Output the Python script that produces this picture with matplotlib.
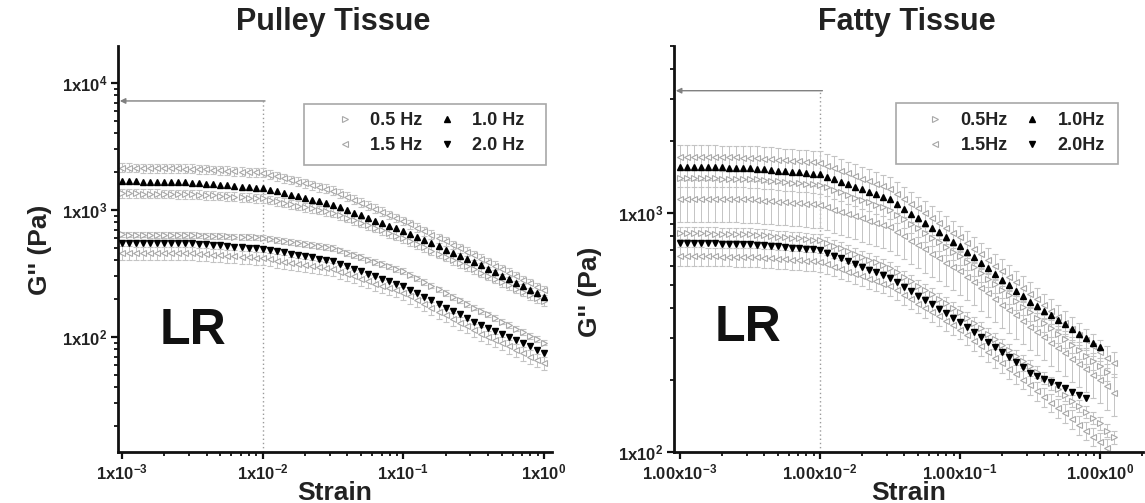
import matplotlib
matplotlib.use("Agg")
import matplotlib.pyplot as plt
from matplotlib.lines import Line2D
from matplotlib.patches import Rectangle
from matplotlib.ticker import LogLocator, NullFormatter

# ---------------- data ----------------
strain = [0.00100, 0.00112, 0.00126, 0.00141, 0.00158, 0.00178, 0.00200, 0.00224, 0.00251, 0.00282,
          0.00316, 0.00355, 0.00398, 0.00447, 0.00501, 0.00562, 0.00631, 0.00708, 0.00794, 0.00891,
          0.0100, 0.0112, 0.0126, 0.0141, 0.0158, 0.0178, 0.0200, 0.0224, 0.0251, 0.0282,
          0.0316, 0.0355, 0.0398, 0.0447, 0.0501, 0.0562, 0.0631, 0.0708, 0.0794, 0.0891,
          0.100, 0.112, 0.126, 0.141, 0.158, 0.178, 0.200, 0.224, 0.251, 0.282,
          0.316, 0.355, 0.398, 0.447, 0.501, 0.562, 0.631, 0.708, 0.794, 0.891,
          1.00, 1.12, 1.26]

# Pulley tissue
pulley_15_upper = [2150, 2146, 2142, 2138, 2134, 2130, 2126, 2122, 2118, 2114,
                   2110, 2095, 2079, 2064, 2049, 2034, 2019, 2004, 1989, 1975,
                   1960, 1898, 1838, 1779, 1723, 1668, 1615, 1564, 1515, 1467,
                   1420, 1344, 1272, 1204, 1140, 1079, 1022, 967, 915, 866,
                   820, 770, 724, 680, 639, 601, 565, 531, 499, 469,
                   440, 413, 387, 363, 341, 320, 300, 281, 264, 247,
                   232]
pulley_10 = [1680, 1676, 1672, 1668, 1664, 1660, 1656, 1652, 1648, 1644,
             1640, 1623, 1607, 1590, 1574, 1558, 1542, 1526, 1511, 1495,
             1480, 1437, 1395, 1354, 1314, 1276, 1238, 1202, 1167, 1133,
             1100, 1048, 999, 952, 908, 865, 824, 786, 749, 714,
             680, 643, 608, 576, 544, 515, 487, 461, 436, 412,
             390, 366, 344, 323, 303, 284, 267, 250, 235, 220,
             207]
pulley_05_upper = [1350, 1348, 1346, 1344, 1342, 1340, 1338, 1336, 1334, 1332,
                   1330, 1320, 1309, 1299, 1289, 1279, 1269, 1259, 1249, 1240,
                   1230, 1199, 1168, 1138, 1109, 1081, 1054, 1027, 1000, 975,
                   950, 907, 867, 828, 791, 755, 721, 689, 658, 628,
                   600, 567, 536, 506, 478, 452, 427, 403, 381, 360,
                   340, 321, 303, 286, 269, 254, 240, 226, 213, 201,
                   190]
pulley_05_lower = [640, 639, 638, 638, 637, 636, 635, 634, 634, 633,
                   632, 629, 626, 624, 621, 618, 616, 613, 610, 608,
                   605, 594, 582, 571, 561, 550, 540, 529, 519, 510,
                   500, 480, 460, 441, 424, 406, 390, 374, 359, 344,
                   330, 309, 289, 270, 253, 237, 222, 207, 194, 182,
                   170, 160, 150, 141, 132, 124, 116, 109, 102, 96,
                   90]
pulley_20 = [552, 551, 551, 550, 549, 549, 548, 547, 547, 546,
             545, 540, 535, 530, 525, 519, 514, 509, 505, 500,
             495, 484, 473, 463, 452, 442, 432, 423, 413, 404,
             395, 377, 360, 344, 329, 314, 300, 287, 274, 262,
             250, 235, 220, 206, 194, 182, 170, 160, 150, 141,
             132, 125, 118, 111, 105, 99, 94, 89, 84, 79,
             75]
pulley_15_lower = [460, 460, 459, 459, 458, 458, 457, 457, 456, 456,
                   455, 451, 447, 442, 438, 434, 430, 426, 422, 419,
                   415, 407, 399, 391, 383, 375, 368, 361, 354, 347,
                   340, 326, 312, 299, 287, 275, 263, 252, 242, 232,
                   222, 208, 194, 181, 169, 158, 148, 138, 129, 121,
                   113, 106, 100, 94, 89, 84, 79, 74, 70, 66,
                   62]

# Fatty tissue
fatty_15_top = [1720, 1719, 1717, 1716, 1714, 1713, 1711, 1710, 1708, 1707,
                1705, 1696, 1688, 1679, 1671, 1662, 1654, 1645, 1637, 1628,
                1620, 1580, 1541, 1502, 1465, 1429, 1393, 1359, 1325, 1292,
                1260, 1203, 1148, 1095, 1046, 998, 952, 909, 868, 828,
                790, 748, 709, 672, 636, 603, 571, 541, 513, 486,
                460, 435, 411, 389, 367, 347, 328, 310, 293, 277,
                262, 248, 235]
fatty_10 = [1560, 1559, 1557, 1556, 1554, 1553, 1551, 1550, 1548, 1547,
            1545, 1535, 1525, 1516, 1506, 1497, 1487, 1478, 1468, 1459,
            1450, 1416, 1382, 1349, 1317, 1286, 1255, 1225, 1196, 1168,
            1140, 1090, 1041, 995, 951, 909, 869, 830, 794, 759,
            725, 687, 652, 618, 586, 555, 526, 499, 473, 448,
            425, 407, 390, 373, 357, 342, 327, 313, 300, 287,
            275]
fatty_05_upper = [1400, 1399, 1398, 1397, 1396, 1395, 1394, 1393, 1392, 1391,
                  1390, 1382, 1374, 1365, 1357, 1349, 1341, 1333, 1326, 1318,
                  1310, 1279, 1248, 1219, 1190, 1161, 1134, 1107, 1081, 1055,
                  1030, 985, 942, 901, 862, 825, 789, 755, 722, 690,
                  660, 625, 593, 561, 532, 504, 478, 453, 429, 406,
                  385, 365, 347, 329, 312, 296, 281, 267, 253, 240,
                  228, 216]
fatty_15_mid = [1150, 1149, 1148, 1147, 1146, 1145, 1144, 1143, 1142, 1141,
                1140, 1134, 1128, 1122, 1116, 1110, 1104, 1098, 1092, 1086,
                1080, 1057, 1034, 1012, 991, 969, 949, 928, 909, 889,
                870, 834, 799, 766, 735, 704, 675, 647, 620, 595,
                570, 540, 513, 486, 461, 437, 414, 393, 373, 353,
                335, 318, 302, 287, 273, 259, 246, 234, 222, 211,
                200, 188, 177]
fatty_05_lower = [826, 825, 824, 823, 822, 821, 819, 818, 817, 816,
                  815, 810, 806, 801, 797, 792, 788, 783, 779, 774,
                  770, 750, 730, 711, 692, 674, 656, 639, 622, 606,
                  590, 565, 542, 519, 497, 477, 457, 438, 419, 402,
                  385, 365, 347, 329, 312, 296, 281, 267, 253, 240,
                  228, 216, 204, 194, 183, 174, 164, 156, 147, 139,
                  132, 123, 115]
fatty_20 = [750, 749, 748, 748, 747, 746, 745, 745, 744, 743,
            742, 738, 733, 729, 725, 720, 716, 712, 708, 704,
            700, 681, 663, 646, 629, 612, 596, 580, 565, 550,
            535, 513, 491, 471, 451, 433, 415, 397, 381, 365,
            350, 333, 318, 302, 288, 274, 261, 249, 237, 226,
            215, 208, 202, 196, 190, 185, 179, 174, 168]
fatty_15_lower = [660, 660, 659, 659, 658, 658, 657, 657, 656, 656,
                  655, 652, 649, 646, 643, 640, 637, 634, 631, 628,
                  625, 611, 597, 583, 569, 556, 543, 531, 519, 507,
                  495, 475, 455, 436, 418, 401, 385, 369, 354, 339,
                  325, 308, 292, 277, 262, 248, 236, 223, 212, 201,
                  190, 180, 170, 161, 153, 145, 137, 130, 123, 116,
                  110, 104]

# relative error-bar half-widths
pulley_err = {"15u": 0.08, "05u": 0.08, "05l": 0.05, "15l": 0.12}
fatty_err = {"15t": 0.12, "05u": 0.08, "15m": 0.20, "05l": 0.06, "15l": 0.09}

legend_labels_left = ["0.5 Hz", "1.5 Hz", "1.0 Hz", "2.0 Hz"]
legend_labels_right = ["0.5Hz", "1.5Hz", "1.0Hz", "2.0Hz"]
x_ticks = [1e-3, 1e-2, 1e-1, 1e0]
x_labels_left = ["1x10$^{-3}$", "1x10$^{-2}$", "1x10$^{-1}$", "1x10$^{0}$"]
x_labels_right = ["1.00x10$^{-3}$", "1.00x10$^{-2}$", "1.00x10$^{-1}$", "1.00x10$^{0}$"]
y_ticks_left = [1e2, 1e3, 1e4]
y_labels_left = ["1x10$^{2}$", "1x10$^{3}$", "1x10$^{4}$"]
y_ticks_right = [1e2, 1e3]
y_labels_right = ["1x10$^{2}$", "1x10$^{3}$"]

lr_limit = 1e-2
arrow_level_left = 7200
arrow_level_right = 3250

# ---------------- style ----------------
plt.rcParams["font.family"] = ["Liberation Sans", "DejaVu Sans"]
plt.rcParams["font.weight"] = "bold"
plt.rcParams["mathtext.fontset"] = "custom"
plt.rcParams["mathtext.rm"] = "Liberation Sans:bold"
plt.rcParams["mathtext.it"] = "Liberation Sans:bold"
plt.rcParams["mathtext.bf"] = "Liberation Sans:bold"
plt.rcParams["mathtext.default"] = "rm"

TXT = "#222222"
GRAY_M = "#a8a8a8"
GRAY_E = "#c4c4c4"

fig = plt.figure(figsize=(11.45, 5.03), dpi=100)
ax1 = fig.add_axes([118 / 1145, 1 - 452 / 503, (552 - 118) / 1145, (452 - 46) / 503])
ax2 = fig.add_axes([674 / 1145, 1 - 452 / 503, (1143 - 674) / 1145, (452 - 46) / 503])


def gray_series(ax, y, frac, marker):
    x = strain[:len(y)]
    err = [v * frac for v in y]
    ax.errorbar(x, y, yerr=err, fmt=marker, ms=4.6, mfc="white", mec=GRAY_M, mew=0.8,
                ecolor=GRAY_E, elinewidth=0.7, capsize=2, capthick=0.7, ls="none", zorder=2)


def black_series(ax, y, marker):
    x = strain[:len(y)]
    ax.plot(x, y, ls="none", marker=marker, ms=4.6, color="black", mec="black", zorder=4)


# Pulley
gray_series(ax1, pulley_15_upper, pulley_err["15u"], "<")
gray_series(ax1, pulley_05_upper, pulley_err["05u"], ">")
gray_series(ax1, pulley_05_lower, pulley_err["05l"], ">")
gray_series(ax1, pulley_15_lower, pulley_err["15l"], "<")
black_series(ax1, pulley_10, "^")
black_series(ax1, pulley_20, "v")

# Fatty
gray_series(ax2, fatty_15_top, fatty_err["15t"], "<")
gray_series(ax2, fatty_05_upper, fatty_err["05u"], ">")
gray_series(ax2, fatty_15_mid, fatty_err["15m"], "<")
gray_series(ax2, fatty_05_lower, fatty_err["05l"], ">")
gray_series(ax2, fatty_15_lower, fatty_err["15l"], "<")
black_series(ax2, fatty_10, "^")
black_series(ax2, fatty_20, "v")


def style_axis(ax, xlim, ylim, xlabels, yticks, ylabels, arrow_level, ylabel_xy):
    ax.set_xscale("log")
    ax.set_yscale("log")
    ax.set_xlim(*xlim)
    ax.set_ylim(*ylim)
    for s in ["top", "right"]:
        ax.spines[s].set_visible(False)
    for s in ["left", "bottom"]:
        ax.spines[s].set_linewidth(2)
        ax.spines[s].set_color("#111111")
    ax.set_xticks(x_ticks)
    ax.set_xticklabels(xlabels)
    ax.set_yticks(yticks)
    ax.set_yticklabels(ylabels)
    ax.xaxis.set_minor_locator(LogLocator(base=10, subs=range(2, 10)))
    ax.yaxis.set_minor_locator(LogLocator(base=10, subs=range(2, 10)))
    ax.xaxis.set_minor_formatter(NullFormatter())
    ax.yaxis.set_minor_formatter(NullFormatter())
    ax.tick_params(which="major", direction="out", length=5, width=1.6, color="#111111",
                   labelsize=12, labelcolor=TXT, pad=2.5)
    ax.tick_params(which="minor", direction="out", length=3, width=1.3, color="#111111")
    ax.set_xlabel("Strain", fontsize=19, fontweight="bold", color=TXT)
    ax.xaxis.set_label_coords(0.5, -0.101)
    ax.xaxis.label.set_va("center")
    ax.set_ylabel("G'' (Pa)", fontsize=19, fontweight="bold", color=TXT)
    ax.yaxis.set_label_coords(*ylabel_xy)
    ax.yaxis.label.set_va("center")
    # linear-region reference lines
    ax.vlines(lr_limit, ylim[0], arrow_level, colors="#9a9a9a", linestyles=(0, (1, 2)), lw=1, zorder=1)
    ax.annotate("", xy=(xlim[0] * 1.03, arrow_level), xytext=(lr_limit * 1.04, arrow_level),
                arrowprops=dict(arrowstyle="-|>", color="#808080", lw=1, mutation_scale=8,
                                shrinkA=0, shrinkB=0), zorder=3)


style_axis(ax1, (10 ** -3.028, 10 ** 0.057), (12.4, 19500), x_labels_left,
           y_ticks_left, y_labels_left, arrow_level_left, (-0.18, 0.4975))
style_axis(ax2, (10 ** -3.043, 10 ** 0.307), (100, 5000), x_labels_right,
           y_ticks_right, y_labels_right, arrow_level_right, (-0.179, 0.394))

ax1.text(0.173, 0.298, "LR", transform=ax1.transAxes, fontsize=36, fontweight="bold",
         color="#111111", ha="center", va="center")
ax2.text(0.158, 0.305, "LR", transform=ax2.transAxes, fontsize=36, fontweight="bold",
         color="#111111", ha="center", va="center")

fig.text(333 / 1145, 1 - 22 / 503, "Pulley Tissue", fontsize=22, fontweight="bold",
         color=TXT, ha="center", va="center")
fig.text(907 / 1145, 1 - 22 / 503, "Fatty Tissue", fontsize=22, fontweight="bold",
         color=TXT, ha="center", va="center")


def make_legend(ax, labels, anchor, frame_box):
    handles = [
        Line2D([], [], ls="none", marker=">", ms=5, mfc="white", mec=GRAY_M, mew=0.8),
        Line2D([], [], ls="none", marker="<", ms=5, mfc="white", mec=GRAY_M, mew=0.8),
        Line2D([], [], ls="none", marker="^", ms=5, color="black"),
        Line2D([], [], ls="none", marker="v", ms=5, color="black"),
    ]
    leg = ax.legend(handles, labels, ncol=2, loc="upper left", bbox_to_anchor=anchor,
                    bbox_transform=fig.transFigure, frameon=False, fontsize=13,
                    handlelength=0.8, handletextpad=1.0, columnspacing=0.95,
                    labelspacing=0.45, borderpad=0, borderaxespad=0)
    for t in leg.get_texts():
        t.set_color(TXT)
        t.set_fontweight("bold")
    x0, y0, x1, y1 = frame_box
    fig.add_artist(Rectangle((x0 / 1145, 1 - y1 / 503), (x1 - x0) / 1145, (y1 - y0) / 503,
                             transform=fig.transFigure, fill=False, edgecolor="#a8a8a8", lw=1.2))


make_legend(ax1, legend_labels_left, (338 / 1145, 1 - 112 / 503), (304, 104, 546, 165))
make_legend(ax2, legend_labels_right, (928 / 1145, 1 - 112 / 503), (896, 103, 1118, 164))

fig.savefig("out.png", dpi=100, facecolor="white")
